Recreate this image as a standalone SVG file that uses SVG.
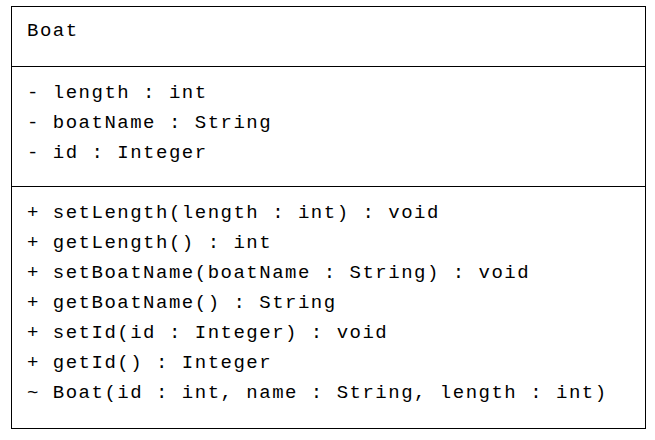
<svg xmlns="http://www.w3.org/2000/svg" width="655" height="440" viewBox="0 0 655 440">
  <style>
    .box { fill: #ffffff; stroke: #000000; stroke-width: 1; }
    .sep { stroke: #000000; stroke-width: 1; }
    .t { font-family: "Liberation Mono", "Courier New", monospace; font-size: 19px; letter-spacing: 1.5px; fill: #000000; }
  </style>
  <rect width="655" height="440" fill="#ffffff"/>
  <g id="Boat">
    <rect class="box" x="11.5" y="6.5" width="634" height="422"/>
    <line class="sep" x1="11.5" y1="66.5" x2="645.5" y2="66.5"/>
    <line class="sep" x1="11.5" y1="186.5" x2="645.5" y2="186.5"/>
    <text class="t" x="27" y="36">Boat</text>
    <text class="t" x="27" y="98">- length : int</text>
    <text class="t" x="27" y="128">- boatName : String</text>
    <text class="t" x="27" y="158">- id : Integer</text>
    <text class="t" x="27" y="218">+ setLength(length : int) : void</text>
    <text class="t" x="27" y="248">+ getLength() : int</text>
    <text class="t" x="27" y="278">+ setBoatName(boatName : String) : void</text>
    <text class="t" x="27" y="308">+ getBoatName() : String</text>
    <text class="t" x="27" y="338">+ setId(id : Integer) : void</text>
    <text class="t" x="27" y="368">+ getId() : Integer</text>
    <text class="t" x="27" y="398">~ Boat(id : int, name : String, length : int)</text>
  </g>
  <g id="connectors"/>
</svg>
